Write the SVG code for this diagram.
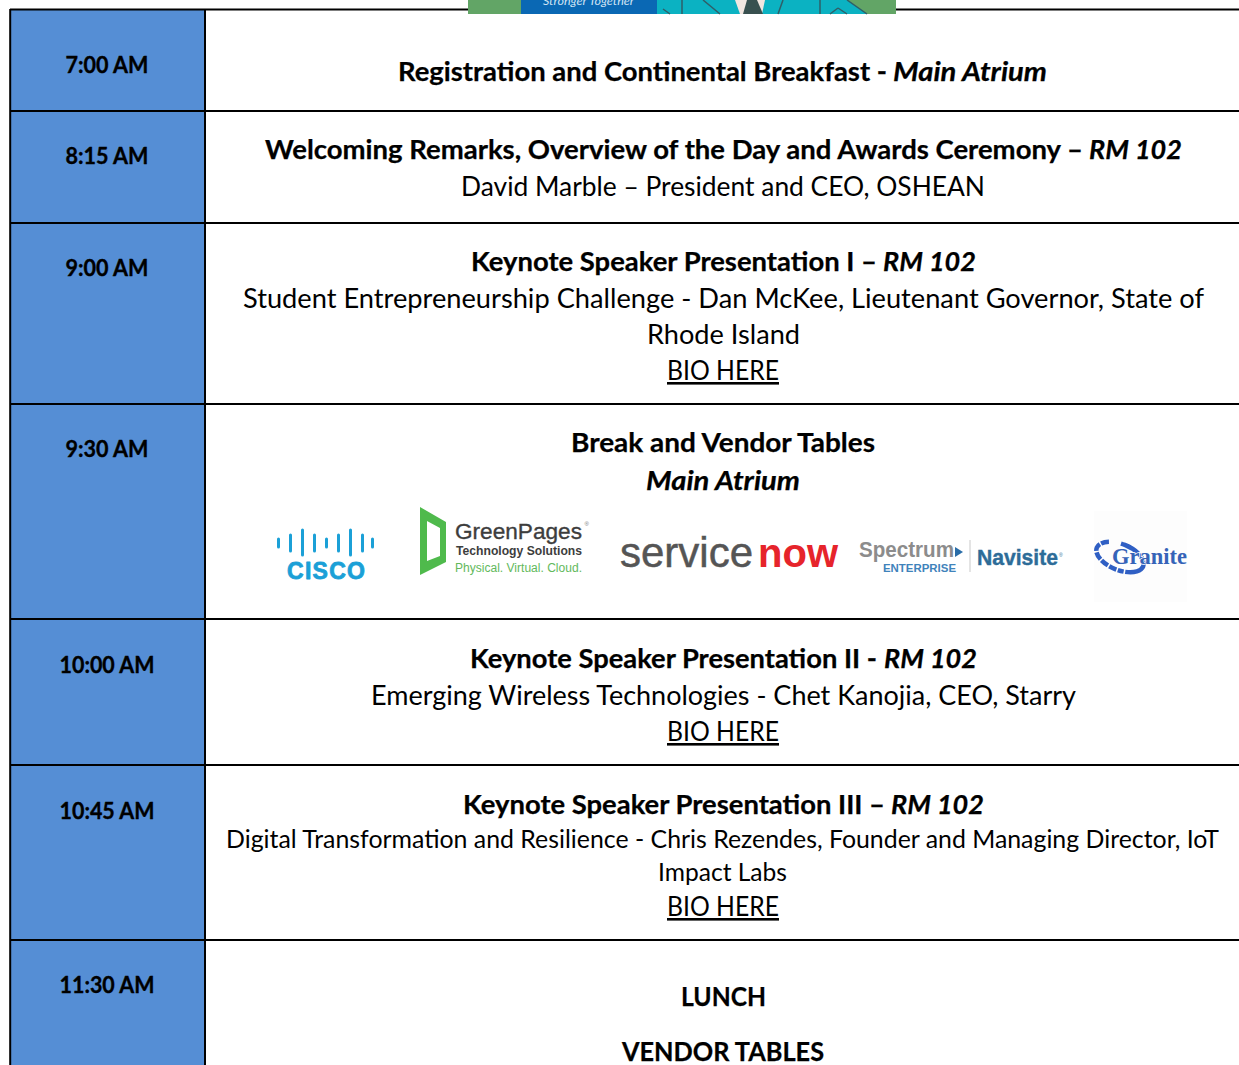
<svg xmlns="http://www.w3.org/2000/svg" width="1239" height="1065" viewBox="0 0 1239 1065">
<style>
text{font-family:"Lato","Carlito","Open Sans",sans-serif;fill:#000;white-space:pre}
.t{font-size:22px;font-weight:700;text-anchor:middle;stroke:#000;stroke-width:.35}
.h{font-size:26px;font-weight:700;stroke:#000;stroke-width:.25}
.i{font-style:italic}
.hi{font-style:italic;font-weight:700;stroke:#000;stroke-width:.25;font-size:26px}
.b{font-size:26px}
.s{font-size:24.5px}
.u{text-decoration:underline}
.rule{stroke:#000;stroke-width:2;fill:none}
.logo{font-family:"Liberation Sans",sans-serif}
</style>
<rect width="1239" height="1065" fill="#fff"/>
<rect x="10" y="9" width="195" height="1056" fill="#558ed5"/>
<g id="connectors">
<path class="rule" d="M10 9.5H468M896 9.5H1239M10 111H1239M10 223H1239M10 404H1239M10 619H1239M10 765H1239M10 940H1239M10.2 9V1065M205 9V1065"/>
</g>
<g id="banner">
<rect x="468" y="0" width="428" height="14" fill="#62a566"/>
<rect x="521" y="0" width="136" height="14" fill="#0a68b4"/>
<path d="M657 0H847L867 14H657Z" fill="#0bb2c2"/>
<text x="543" y="5" font-size="11" textLength="91" lengthAdjust="spacingAndGlyphs" style="fill:#cfe3f3" class="i">Stronger Together</text>
<path d="M663 9L670 14M682 0V14M703 0L720 14M783 0L778 14M820 0V14M847 0L867 14M838 8L830 14M838 8L847 14" stroke="#2f5f68" stroke-width="1.5" fill="none"/>
<path d="M735 0H765L762 14H740Z" fill="#f2e6e0"/>
<path d="M747 0H757L763 14H743Z" fill="#38504f"/>
</g>
<g id="row-0700">
<text class="t" x="107" y="73" textLength="83" lengthAdjust="spacingAndGlyphs">7:00 AM</text>
<text class="h" x="398" y="80.500" textLength="489" lengthAdjust="spacingAndGlyphs">Registration and Continental Breakfast -</text>
<text class="hi" x="893" y="80.500" textLength="154" lengthAdjust="spacingAndGlyphs">Main Atrium</text>
</g>
<g id="row-0815">
<text class="t" x="107" y="164" textLength="83" lengthAdjust="spacingAndGlyphs">8:15 AM</text>
<text class="h" x="265" y="158.500" textLength="818" lengthAdjust="spacingAndGlyphs">Welcoming Remarks, Overview of the Day and Awards Ceremony –</text>
<text class="hi" x="1089" y="158.500" textLength="93" lengthAdjust="spacingAndGlyphs">RM 102</text>
<text class="b" x="461" y="196" textLength="524" lengthAdjust="spacingAndGlyphs">David Marble – President and CEO, OSHEAN</text>
</g>
<g id="row-0900">
<text class="t" x="107" y="276" textLength="83" lengthAdjust="spacingAndGlyphs">9:00 AM</text>
<text class="h" x="471" y="270.500" textLength="406" lengthAdjust="spacingAndGlyphs">Keynote Speaker Presentation I –</text>
<text class="hi" x="883" y="270.500" textLength="93" lengthAdjust="spacingAndGlyphs">RM 102</text>
<text class="b" x="243" y="308" textLength="961" lengthAdjust="spacingAndGlyphs">Student Entrepreneurship Challenge - Dan McKee, Lieutenant Governor, State of</text>
<text class="b" x="647" y="344" textLength="153" lengthAdjust="spacingAndGlyphs">Rhode Island</text>
<text class="b u" x="667" y="380" textLength="112" lengthAdjust="spacingAndGlyphs">BIO HERE</text>
</g>
<g id="row-0930">
<text class="t" x="107" y="457" textLength="83" lengthAdjust="spacingAndGlyphs">9:30 AM</text>
<text class="h" x="571" y="451.500" textLength="304" lengthAdjust="spacingAndGlyphs">Break and Vendor Tables</text>
<text class="hi" x="646" y="489.500" textLength="154" lengthAdjust="spacingAndGlyphs">Main Atrium</text>
</g>
<g id="logo-cisco">
<path d="M278.500 539v8M290.500 535v16M302.500 530v25M314.500 535v16M326.500 539v8M338.500 535v16M350.500 530v25M362.500 535v16M372.500 539v8" stroke="#1ba0d7" stroke-width="3" stroke-linecap="round" fill="none"/>
<text class="logo" x="287" y="579" font-size="23" font-weight="700" textLength="78" lengthAdjust="spacing" style="fill:#1ba0d7;stroke:#1ba0d7;stroke-width:.8;stroke-linejoin:round">CISCO</text>
</g>
<g id="logo-greenpages">
<path fill-rule="evenodd" d="M420 507L446 522V562L420 575ZM427 521V561L440 556V528Z" fill="#4fba4c"/>
<text class="logo" x="455" y="539" font-size="22.500" textLength="127" lengthAdjust="spacingAndGlyphs" style="fill:#3d3d3d;stroke:#3d3d3d;stroke-width:.35">GreenPages</text>
<text class="logo" x="584.500" y="526" font-size="6" style="fill:#777">®</text>
<text class="logo" x="456" y="555" font-size="13" font-weight="700" textLength="126" lengthAdjust="spacingAndGlyphs" style="fill:#3d3d3d">Technology Solutions</text>
<text class="logo" x="455" y="572" font-size="12.500" textLength="127" lengthAdjust="spacingAndGlyphs" style="fill:#62b95c">Physical. Virtual. Cloud.</text>
</g>
<g id="logo-servicenow">
<text class="logo" x="620" y="567" font-size="42" textLength="133" lengthAdjust="spacingAndGlyphs" style="fill:#555;stroke:#555;stroke-width:.5">service</text>
<text class="logo" x="758" y="567" font-size="40" font-weight="700" textLength="80" lengthAdjust="spacingAndGlyphs" style="fill:#e6242b">now</text>
</g>
<g id="logo-spectrum">
<text class="logo" x="859" y="557" font-size="22" font-weight="700" textLength="95" lengthAdjust="spacingAndGlyphs" style="fill:#8c8c8c">Spectrum</text>
<path d="M955 547L963 552L955 557Z" fill="#2a6da8"/>
<text class="logo" x="883" y="572" font-size="11" font-weight="700" textLength="73" lengthAdjust="spacingAndGlyphs" style="fill:#3f83bb">ENTERPRISE</text>
<path d="M970 540V572" stroke="#c9c9c9" stroke-width="1"/>
</g>
<g id="logo-navisite">
<text class="logo" x="977" y="565" font-size="21.500" font-weight="700" textLength="81" lengthAdjust="spacingAndGlyphs" style="fill:#2d6c98;stroke:#2d6c98;stroke-width:.4">Navisite</text>
<text class="logo" x="1059" y="557" font-size="5" style="fill:#2d6c98">®</text>
</g>
<g id="logo-granite">
<rect x="1094" y="511" width="93" height="91" fill="#fdfdfd"/>
<ellipse cx="1120" cy="557" rx="25" ry="13" transform="rotate(22 1120 557)" fill="none" stroke="#2f5fc4" stroke-width="4.500" stroke-dasharray="20 1.500 6 1.500 8 1.500 8 1.500 8 1.500 8 1.500 8 12"/>
<text x="1112" y="564" font-size="23" font-weight="700" textLength="75" lengthAdjust="spacingAndGlyphs" style="font-family:'Liberation Serif',serif;fill:#3563b8;stroke:#fdfdfd;stroke-width:1.500;paint-order:stroke">Granite</text>
</g>
<g id="row-1000">
<text class="t" x="107" y="673" textLength="95" lengthAdjust="spacingAndGlyphs">10:00 AM</text>
<text class="h" x="470" y="667.500" textLength="407" lengthAdjust="spacingAndGlyphs">Keynote Speaker Presentation II -</text>
<text class="hi" x="884" y="667.500" textLength="93" lengthAdjust="spacingAndGlyphs">RM 102</text>
<text class="b" x="371" y="705" textLength="705" lengthAdjust="spacingAndGlyphs">Emerging Wireless Technologies - Chet Kanojia, CEO, Starry</text>
<text class="b u" x="667" y="741" textLength="112" lengthAdjust="spacingAndGlyphs">BIO HERE</text>
</g>
<g id="row-1045">
<text class="t" x="107" y="819" textLength="95" lengthAdjust="spacingAndGlyphs">10:45 AM</text>
<text class="h" x="463" y="813.500" textLength="422" lengthAdjust="spacingAndGlyphs">Keynote Speaker Presentation III –</text>
<text class="hi" x="891" y="813.500" textLength="93" lengthAdjust="spacingAndGlyphs">RM 102</text>
<text class="s" x="226" y="848" textLength="993" lengthAdjust="spacingAndGlyphs">Digital Transformation and Resilience - Chris Rezendes, Founder and Managing Director, IoT</text>
<text class="s" x="658" y="881" textLength="129" lengthAdjust="spacingAndGlyphs">Impact Labs</text>
<text class="b u" x="667" y="916" textLength="112" lengthAdjust="spacingAndGlyphs">BIO HERE</text>
</g>
<g id="row-1130">
<text class="t" x="107" y="993" textLength="95" lengthAdjust="spacingAndGlyphs">11:30 AM</text>
<text class="h" x="681" y="1005.500" textLength="85" lengthAdjust="spacingAndGlyphs">LUNCH</text>
<text class="h" x="622" y="1061" textLength="202" lengthAdjust="spacingAndGlyphs">VENDOR TABLES</text>
</g>
</svg>
